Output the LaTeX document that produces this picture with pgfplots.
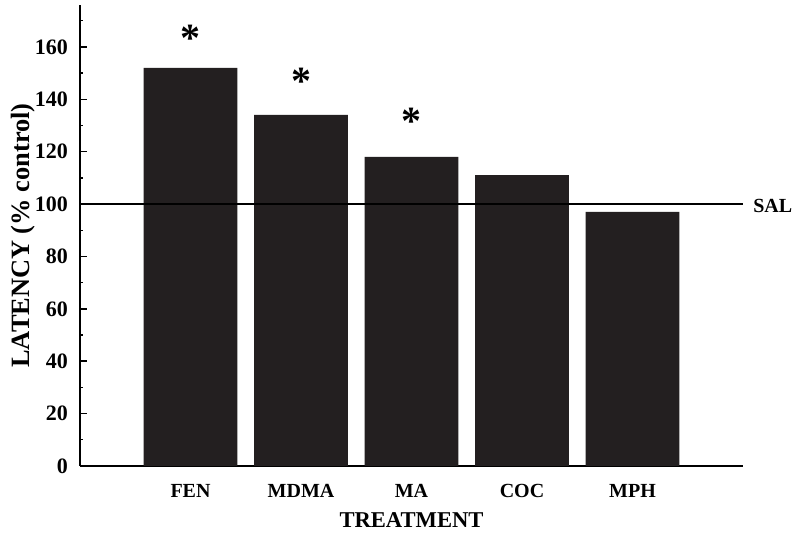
\documentclass[border=0pt]{standalone}
\usepackage{fontspec}
\setmainfont{Liberation Serif}
\usepackage{pgfplots}
\pgfplotsset{compat=1.18}
\definecolor{barblack}{HTML}{231F20}
\begin{document}
\begin{tikzpicture}[x=1pt,y=1pt]
\begin{axis}[
    scale only axis,
    width=331.5pt, height=230.5pt,
    axis lines=left,
    axis line style={-, line width=0.9pt, black},
    xmin=-1, xmax=5,
    ymin=0, ymax=176,
    xtick={0,1,2,3,4},
    xticklabels={FEN,MDMA,MA,COC,MPH},
    x tick label style={font=\bfseries\fontsize{10}{11}\selectfont, yshift=-5.5pt},
    xtick style={draw=none},
    ytick={0,20,...,160},
    minor ytick={10,30,...,170},
    y tick label style={font=\bfseries\fontsize{11}{13}\selectfont, xshift=-2.5pt},
    /pgf/number format/assume math mode=true,
    tick align=inside,
    major tick length=3.5pt,
    minor tick length=1.5pt,
    ytick style={line width=0.7pt, black},
    xlabel={\bfseries TREATMENT},
    ylabel={\bfseries LATENCY (\% control)},
    xlabel style={font=\bfseries\fontsize{11.3}{13}\selectfont, yshift=-0.5pt},
    ylabel style={font=\bfseries\fontsize{13.2}{15}\selectfont, yshift=-7pt},
    clip=false,
]
\addplot[ybar, bar width=0.85, fill=barblack, draw=none] coordinates {
    (0,152) (1,134) (2,118) (3,111) (4,97)
};
\addplot[black, line width=0.6pt] coordinates {(-1,100) (5,100)}
    node[pos=1, anchor=west, xshift=1.5pt, yshift=-1pt, font=\bfseries\fontsize{10}{11}\selectfont] {SAL};
\addplot[draw=none, mark=none, nodes near coords={\fontsize{20}{20}\selectfont\bfseries *},
    every node near coord/.append style={anchor=center, yshift=-5pt}] coordinates {
    (0,167) (1,150.5) (2,135.5)
};
\coordinate (bl) at (rel axis cs:-0.1207,-0.1475);
\coordinate (tr) at (rel axis cs:1.0860,1.0108);
\end{axis}
\pgfresetboundingbox
\useasboundingbox (bl) rectangle (tr);
\end{tikzpicture}
\end{document}
